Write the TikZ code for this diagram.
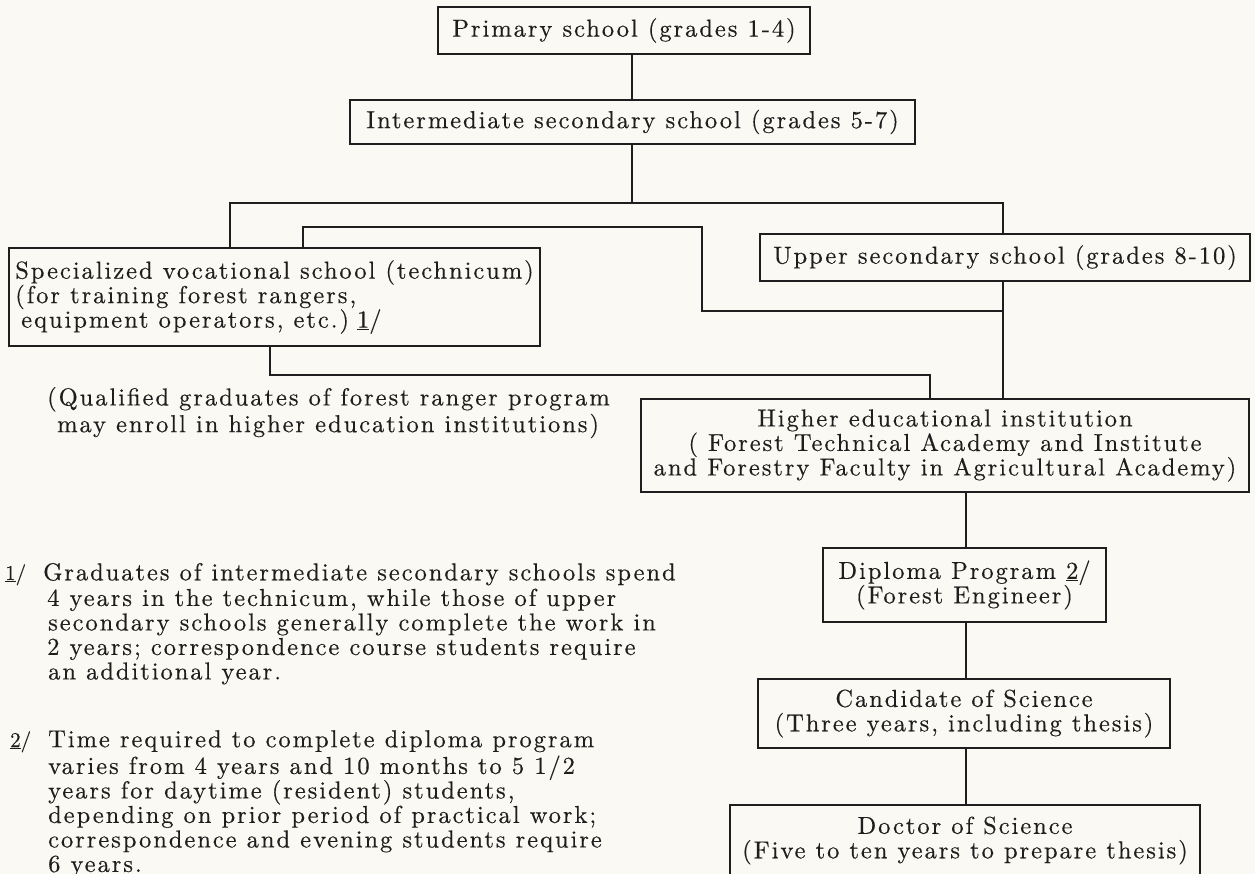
\documentclass[tikz,border=0pt]{standalone}
\usepackage{fontspec}
\setmainfont{lmroman10-regular}[Extension=.otf, LetterSpace=8, FakeBold=0.4]
\definecolor{ink}{RGB}{30,30,30}
\definecolor{bgcol}{RGB}{250,249,243}
\newcommand\mainsize{\fontsize{24.5}{24.5}\selectfont}
\tikzset{
  box/.style={draw=ink, line width=1.6pt, inner sep=0pt, font=\mainsize, text=ink, align=center},
  conn/.style={draw=ink, line width=1.1pt},
  txt/.style={inner sep=0pt, font=\mainsize, text=ink, align=left, anchor=north west},
}
\begin{document}
\begin{tikzpicture}[x=1pt, y=-1pt]
\fill[bgcol] (0,0) rectangle (1255,874);
\useasboundingbox (0,0) rectangle (1255,874);

% boxes
\node[box, minimum width=372pt, minimum height=47pt] (prim) at (624,30.5) {Primary school (grades 1-4)};
\node[box, minimum width=565pt, minimum height=44pt] (inter) at (632.5,122) {Intermediate secondary school (grades 5-7)};
\node[box, minimum width=531pt, minimum height=98pt, align=left] (spec) at (274.5,297)
  {Specialized vocational school (technicum)\\(for training forest rangers,\\\hspace*{6pt}equipment operators, etc.)\hspace{8pt}\underline{1}/};
\node[box, minimum width=490pt, minimum height=47pt] (upper) at (1005,257.5) {Upper secondary school (grades 8-10)};
\node[box, minimum width=608pt, minimum height=93pt] (higher) at (945,445.5)
  {Higher educational institution\\( Forest Technical Academy and Institute\\and Forestry Faculty in Agricultural Academy)};
\node[box, minimum width=283pt, minimum height=74pt] (dipl) at (964.5,585) {Diploma Program \underline{2}/\\(Forest Engineer)};
\node[box, minimum width=412pt, minimum height=69pt] (cand) at (964,713.5) {Candidate of Science\\(Three years, including thesis)};
\node[box, minimum width=470pt, minimum height=71pt] (doct) at (965,840.5) {Doctor of Science\\(Five to ten years to prepare thesis)};

% connectors
\coordinate (cA) at (632,0);
\coordinate (j0) at (632,203);
\coordinate (jl) at (230,203);
\coordinate (jr) at (1003,203);
\coordinate (k1) at (303,227);
\coordinate (k2) at (702,227);
\coordinate (k3) at (702,311);
\coordinate (k4) at (1003,311);
\coordinate (m1) at (270,375);
\coordinate (m2) at (930,375);
\coordinate (cB) at (966,0);

\draw[conn] (prim.south -| cA) -- (inter.north -| cA);
\draw[conn] (inter.south -| j0) -- (j0);
\draw[conn] (spec.north -| jl) -- (jl) -- (jr) -- (upper.north -| jr);
\draw[conn] (spec.north -| k1) -- (k1) -- (k2) -- (k3) -- (k4);
\draw[conn] (upper.south -| jr) -- (higher.north -| jr);
\draw[conn] (spec.south -| m1) -- (m1) -- (m2) -- (higher.north -| m2);
\draw[conn] (higher.south -| cB) -- (dipl.north -| cB);
\draw[conn] (dipl.south -| cB) -- (cand.north -| cB);
\draw[conn] (cand.south -| cB) -- (doct.north -| cB);

% note
\node[txt] (note) at (47,386.85) {\strut(Qualified graduates of forest ranger program\\\hspace*{10pt}may enroll in higher education institutions)};

% footnotes
\node[txt, anchor=base west, font=\fontsize{21}{24.5}\selectfont] (fm1) at (5,580) {\underline{1}/};
\node[txt] (fn1) at (43,562.85) {\strut Graduates of intermediate secondary schools spend\\
\hspace*{4pt}4 years in the technicum, while those of upper\\
\hspace*{5pt}secondary schools generally complete the work in\\
\hspace*{4pt}2 years; correspondence course students require\\
\hspace*{5pt}an additional year.};
\node[txt, anchor=base west, font=\fontsize{21}{24.5}\selectfont] (fm2) at (10,747) {\underline{2}/};
\node[txt] (fn2) at (48,729.85) {\strut Time required to complete diploma program\\
varies from 4 years and 10 months to 5 1/2\\
years for daytime (resident) students,\\
depending on prior period of practical work;\\
correspondence and evening students require\\
6 years.};
\end{tikzpicture}
\end{document}
